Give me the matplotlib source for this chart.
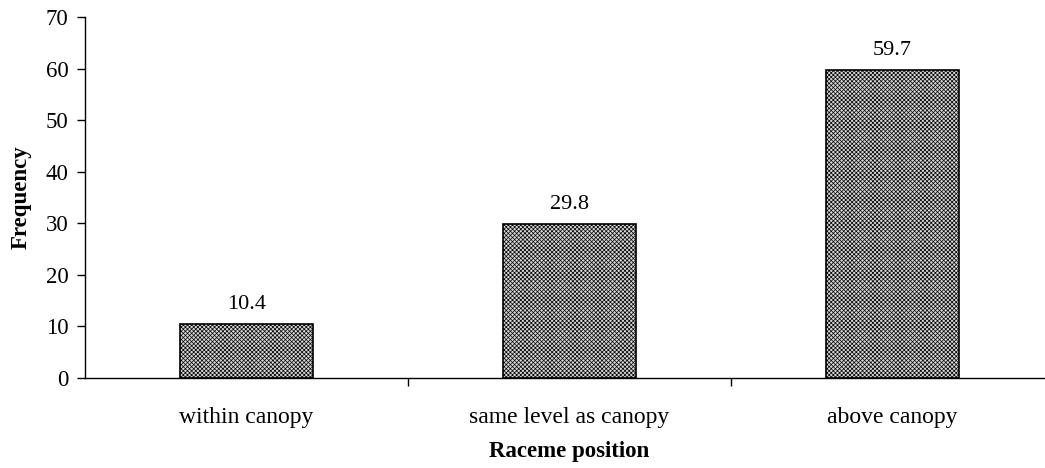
import matplotlib
matplotlib.use("Agg")
import matplotlib.pyplot as plt

# data
categories = ["within canopy", "same level as canopy", "above canopy"]
values = [10.4, 29.8, 59.7]
yticks = [0, 10, 20, 30, 40, 50, 60, 70]

plt.rcParams["font.family"] = ["Liberation Serif", "DejaVu Serif"]
plt.rcParams["hatch.linewidth"] = 0.5
plt.rcParams["hatch.color"] = "#7c7c7c"

fig = plt.figure(figsize=(10.45, 4.68), dpi=100)
ax = fig.add_axes([85 / 1045, 1 - 378 / 468, 969 / 1045, (378 - 17) / 468])

x = list(range(len(categories)))
ax.bar(x, values, width=0.41, color="#d6d6d6", edgecolor="black",
       linewidth=1.2, hatch="xxxxxxxx")
for xi, v in zip(x, values):
    ax.text(xi, v + 2.9, f"{v:.1f}", ha="center", va="baseline", fontsize=16)

ax.set_xlim(-0.5, 2.5)
ax.set_ylim(0, 70)
ax.set_yticks(yticks)
ax.set_xticks(x)
ax.set_xticklabels(categories)
ax.set_xticks([0.5, 1.5], minor=True)
ax.tick_params(axis="x", which="major", length=0, pad=21, labelsize=17)
ax.tick_params(axis="x", which="minor", length=6, width=1)
ax.tick_params(axis="y", labelsize=16.5, length=6, width=1, pad=6)
for s in ["top", "right"]:
    ax.spines[s].set_visible(False)
ax.spines["left"].set_linewidth(1)
ax.spines["bottom"].set_linewidth(1)

ax.set_ylabel("Frequency", fontsize=16.5, fontweight="bold", labelpad=10)
ax.set_xlabel("Raceme position", fontsize=16.5, fontweight="bold", labelpad=9)

fig.savefig("out.png", dpi=100)
